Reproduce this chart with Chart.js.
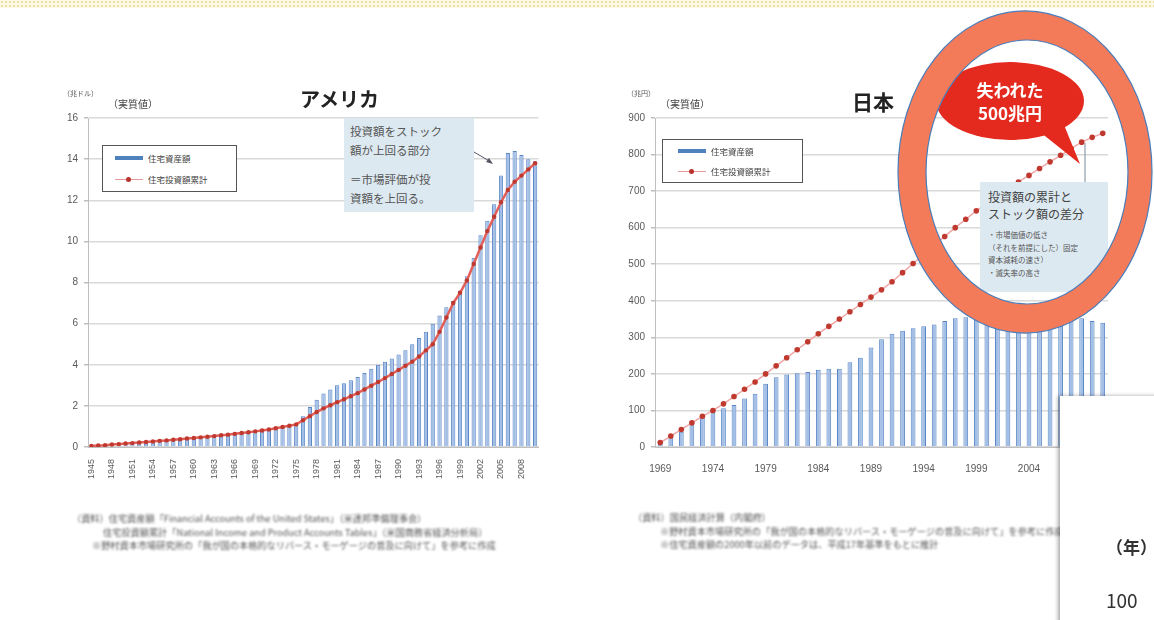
<!DOCTYPE html>
<html lang="ja">
<head>
<meta charset="UTF-8">
<title>住宅資産額と住宅投資額累計</title>
<script src="https://cdn.jsdelivr.net/npm/chart.js"></script>
<style>
  body { margin: 0; }
  #page {
    position: relative;
    width: 1154px;
    height: 620px;
    overflow: hidden;
    background: #fff;
    font-family: 'Noto Sans CJK JP', 'Noto Sans', sans-serif;
    color: #404040;
  }
  #topband {
    position: absolute; left: 0; top: 0; width: 1154px; height: 8px;
    background: radial-gradient(circle, #efe19a 1px, transparent 1.4px) 0 0 / 4px 4px, #fdf9e8;
  }
  .shot { position: absolute; left: 0; top: 0; width: 1154px; height: 620px; filter: blur(0.5px); }
  canvas { position: absolute; }
  #usChart { left: 50px; top: 106px; }
  #jpChart { left: 610px; top: 106px; }
  .abs { position: absolute; white-space: nowrap; }
  .title { font-weight: bold; font-size: 20px; color: #222; }
  .unit { font-size: 7px; color: #555; }
  .real { font-size: 10px; color: #444; }
  .legend {
    position: absolute; border: 1px solid #555; background: #fff;
    font-size: 8.5px; color: #444;
  }
  .legend .row { position: absolute; left: 12px; display: flex; align-items: center; }
  .sw-bar { width: 28px; height: 4px; background: #4f81bd; margin-right: 5px; }
  .sw-line { position: relative; width: 28px; height: 1px; background: #e89a9a; margin-right: 5px; }
  .sw-line::after {
    content: ''; position: absolute; left: 11px; top: -2px; width: 5px; height: 5px;
    border-radius: 50%; background: #b8322d;
  }
  .note { position: absolute; background: #dde9f1; color: #555; }
  .notes { position: absolute; font-size: 9.2px; color: #555; line-height: 13.5px; filter: blur(0.8px); }
  #cover {
    position: absolute; left: 1060px; top: 396px; width: 100px; height: 230px;
    background: #fff; box-shadow: -2px 0 4px rgba(0,0,0,0.35);
    font-family: 'Noto Sans CJK JP', sans-serif; color: #333;
  }
</style>
</head>
<body>
<div id="page">
  <div id="topband"></div>

  <div class="shot">
    <canvas id="usChart" width="500" height="384"></canvas>
    <canvas id="jpChart" width="510" height="366"></canvas>

    <!-- アメリカ -->
    <div class="abs title" style="left:300px; top:84px;">アメリカ</div>
    <div class="abs unit" style="left:63px; top:88px;">（兆ドル）</div>
    <div class="abs real" style="left:108px; top:96px;">（実質値）</div>
    <div class="legend" style="left:102px; top:145px; width:133px; height:45px;">
      <div class="row" style="top:6px;"><span class="sw-bar"></span>住宅資産額</div>
      <div class="row" style="top:27px;"><span class="sw-line"></span>住宅投資額累計</div>
    </div>
    <div class="note" style="left:344px; top:118px; width:130px; height:94px; font-size:11.5px; line-height:19px; padding:4px 0 0 6px; box-sizing:border-box;">
      投資額をストック<br>額が上回る部分<br><span style="display:block;height:10px;"></span>＝市場評価が投<br>資額を上回る。
    </div>
    <svg class="abs" style="left:0; top:0;" width="1154" height="620">
      <line x1="474" y1="152" x2="491" y2="162" stroke="#556" stroke-width="1"/>
      <polygon points="493,164 486,162 489,158" fill="#556"/>
      <line x1="1085" y1="143" x2="1085" y2="182" stroke="#7a8a99" stroke-width="1"/>
    </svg>
    <div class="notes" style="left:72px; top:512px;">
      （資料）住宅資産額「Financial Accounts of the United States」（米連邦準備理事会）<br>
      <span style="padding-left:31px;">住宅投資額累計「National Income and Product Accounts Tables」（米国商務省経済分析局）</span><br>
      <span style="padding-left:20px;">※野村資本市場研究所の「我が国の本格的なリバース・モーゲージの普及に向けて」を参考に作成</span>
    </div>

    <!-- 日本 -->
    <div class="abs title" style="left:852px; top:86px; font-size:21px;">日本</div>
    <div class="abs unit" style="left:627px; top:88px;">（兆円）</div>
    <div class="abs real" style="left:660px; top:96px;">（実質値）</div>
    <div class="legend" style="left:662px; top:139px; width:139px; height:42px;">
      <div class="row" style="top:5px; left:15px;"><span class="sw-bar"></span>住宅資産額</div>
      <div class="row" style="top:25px; left:15px;"><span class="sw-line"></span>住宅投資額累計</div>
    </div>
    <div class="note" style="left:980px; top:182px; width:128px; height:110px; padding:6px 0 0 8px; box-sizing:border-box;">
      <div style="font-size:12px; line-height:17px; color:#444;">投資額の累計と<br>ストック額の差分</div>
      <div style="font-size:7.5px; line-height:12.5px; margin-top:7px;">・市場価値の低さ<br>（それを前提にした）固定<br>資本減耗の速さ）<br>・滅失率の高さ</div>
    </div>
    <div class="notes" style="left:633px; top:511px;">
      （資料）国民経済計算（内閣府）<br>
      <span style="padding-left:27px;">※野村資本市場研究所の「我が国の本格的なリバース・モーゲージの普及に向けて」を参考に作成</span><br>
      <span style="padding-left:27px;">※住宅資産額の2000年以前のデータは、平成17年基準をもとに推計</span>
    </div>

    <!-- 吹き出し -->
    <svg class="abs" style="left:0; top:0;" width="1154" height="620">
      <polygon points="1035,128 1080,164 1062,120" fill="#e42a1f"/>
      <ellipse cx="1010" cy="101" rx="74" ry="39" fill="#e42a1f"/>
    </svg>
    <div class="abs" style="left:940px; top:78px; width:140px; text-align:center; color:#fff; font-weight:bold; font-size:17px; line-height:23px;">失われた<br>500兆円</div>
  </div>

  <!-- 強調の輪 -->
  <svg class="abs" style="left:0; top:0;" width="1154" height="620">
    <path fill="#f47b5a" fill-rule="evenodd" stroke="#4a7ebb" stroke-width="1.2"
      d="M 898 172 A 127 161 0 1 0 1152 172 A 127 161 0 1 0 898 172 Z
         M 926 172 A 101 132 0 1 0 1128 172 A 101 132 0 1 0 926 172 Z"/>
  </svg>

  <div id="cover">
    <div class="abs" style="left:46px; top:138px; font-size:17px; font-weight:bold;">（年）</div>
    <div class="abs" style="left:46px; top:190px; font-size:19px;">100</div>
  </div>
</div>

<script>
// アメリカ（兆ドル、実質値）
const usYears = [];
for (let y = 1945; y <= 2010; y++) usYears.push(String(y));
const usStock = [
  0.10, 0.11, 0.13, 0.15, 0.16, 0.18, 0.20, 0.22, 0.24, 0.26,
  0.28, 0.30, 0.32, 0.35, 0.38, 0.40, 0.43, 0.46, 0.50, 0.53,
  0.56, 0.60, 0.64, 0.68, 0.72, 0.77, 0.82, 0.88, 0.95, 1.02,
  1.10, 1.50, 1.95, 2.30, 2.60, 2.80, 3.00, 3.10, 3.25, 3.40,
  3.60, 3.80, 4.00, 4.15, 4.30, 4.50, 4.70, 5.00, 5.30, 5.60,
  6.00, 6.40, 6.80, 7.10, 7.60, 8.30, 9.20, 10.30, 11.00, 11.80,
  13.20, 14.30, 14.40, 14.20, 14.00, 13.90
];
const usInvest = [
  0.05, 0.07, 0.09, 0.12, 0.14, 0.17, 0.19, 0.22, 0.24, 0.27,
  0.30, 0.32, 0.35, 0.38, 0.41, 0.44, 0.47, 0.50, 0.53, 0.57,
  0.60, 0.64, 0.68, 0.72, 0.76, 0.80, 0.85, 0.91, 0.97, 1.03,
  1.10, 1.30, 1.50, 1.70, 1.88, 2.03, 2.18, 2.32, 2.47, 2.62,
  2.80, 2.98, 3.16, 3.35, 3.55, 3.75, 3.95, 4.15, 4.40, 4.70,
  5.00, 5.60, 6.30, 7.00, 7.50, 8.10, 8.90, 9.70, 10.50, 11.20,
  11.90, 12.50, 12.90, 13.20, 13.50, 13.80
];

// 日本（兆円、実質値）
const jpYears = [];
for (let y = 1969; y <= 2011; y++) jpYears.push(String(y));
const jpStock = [
  15, 28, 42, 64, 87, 96, 106, 115, 133, 146,
  173, 191, 198, 202, 205, 211, 214, 214, 232, 244,
  272, 295, 310, 318, 325, 330, 335, 345, 352, 355,
  352, 350, 352, 355, 356, 358, 360, 358, 355, 350,
  352, 345, 340
];
const jpInvest = [
  12, 30, 48, 66, 84, 100, 118, 138, 158, 178,
  200, 222, 244, 266, 288, 310, 330, 350, 370, 390,
  410, 430, 452, 477, 502, 527, 552, 576, 600, 623,
  646, 667, 687, 706, 725, 743, 762, 780, 798, 816,
  834, 847, 858
];

const usTickStep = 3;
const jpTickStep = 5;

const tickFont = { family: "'Liberation Sans', Arial, sans-serif", size: 10 };

function makeChart(id, years, stock, invest, opts) {
  return new Chart(document.getElementById(id), {
    type: 'bar',
    data: {
      labels: years,
      datasets: [
        {
          type: 'line',
          label: '住宅投資額累計',
          data: invest,
          borderColor: opts.lineColor,
          borderWidth: opts.lineWidth,
          pointRadius: opts.pointRadius,
          pointBackgroundColor: '#c0392f',
          pointBorderWidth: 0,
          tension: 0,
          order: 0
        },
        {
          type: 'bar',
          label: '住宅資産額',
          data: stock,
          backgroundColor: '#a3bfe6',
          borderColor: '#5a86c6',
          borderWidth: 1,
          barPercentage: opts.barPct,
          categoryPercentage: 1,
          order: 1
        }
      ]
    },
    options: {
      responsive: false,
      animation: false,
      layout: { padding: opts.padding },
      plugins: { legend: { display: false }, tooltip: { enabled: false } },
      scales: {
        x: {
          grid: { display: false },
          border: { color: '#bfbfbf', width: 1 },
          afterFit: s => { s.height = opts.xHeight; },
          ticks: {
            autoSkip: false,
            minRotation: opts.rotate,
            maxRotation: opts.rotate,
            padding: opts.xPad,
            color: '#595959',
            font: { family: tickFont.family, size: opts.xFont },
            callback: (v, i) => (i % opts.step === 0 ? years[i] : '')
          }
        },
        y: {
          min: 0,
          max: opts.max,
          afterFit: s => { s.width = opts.yWidth; },
          grid: { color: '#d9d9d9', lineWidth: 1.5, tickLength: 4, tickColor: '#bfbfbf' },
          border: { color: '#bfbfbf', width: 1 },
          ticks: {
            stepSize: opts.stepSize,
            padding: 6,
            color: '#595959',
            font: tickFont
          }
        }
      }
    }
  });
}

makeChart('usChart', usYears, usStock, usInvest, {
  max: 16, stepSize: 2, step: usTickStep, rotate: 90, xPad: 4, xFont: 9, xHeight: 43,
  yWidth: 30, barPct: 0.62, lineColor: '#e25f5a', lineWidth: 2.5, pointRadius: 2.2,
  padding: { left: 8, right: 9, top: 10, bottom: 0 }
});

makeChart('jpChart', jpYears, jpStock, jpInvest, {
  max: 900, stepSize: 100, step: jpTickStep, rotate: 0, xPad: 8, xFont: 10, xHeight: 25,
  yWidth: 30, barPct: 0.45, lineColor: '#f0a6a6', lineWidth: 1.5, pointRadius: 2.8,
  padding: { left: 15, right: 12, top: 10, bottom: 0 }
});
</script>
</body>
</html>
